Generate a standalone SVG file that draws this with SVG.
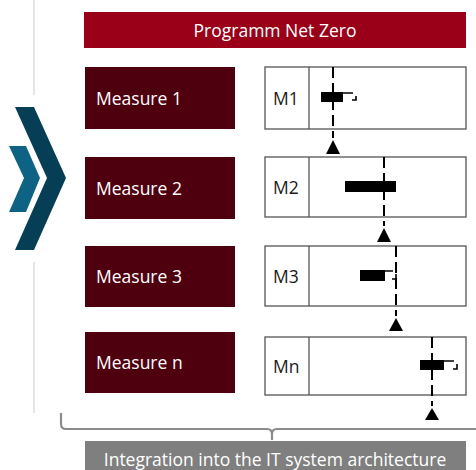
<svg xmlns="http://www.w3.org/2000/svg" width="476" height="470" viewBox="0 0 476 470">
<style>
text{font-family:"Open Sans","Liberation Sans",sans-serif;font-size:17.5px}
.w{fill:#fff}
.k{fill:#1a1a1a}
.m{fill:#4f000e}
.bx{fill:#fff;stroke:#555;stroke-width:1.3}
.dl{stroke:#000;stroke-width:2;stroke-dasharray:11,5;fill:none}
.bar{fill:#000}
</style>
<rect width="476" height="470" fill="#fff"/>
<g id="sidebar">
<line x1="34" y1="0" x2="34" y2="95" stroke="#d4d4d4" stroke-width="1.2"/>
<line x1="34" y1="262" x2="34" y2="413" stroke="#d4d4d4" stroke-width="1.2"/>
<polygon points="15,107 34,107 66,178 34,250 15,250 47,178" fill="#063f55"/>
<polygon points="9,146 26,146 40,178 26,212 9,212 24,178" fill="#0e6384"/>
</g>
<g id="header">
<rect x="84" y="12" width="382" height="36" fill="#9b0019"/>
<text class="w" x="275" y="37" text-anchor="middle">Programm Net Zero</text>
</g>
<g id="measure1"><rect class="m" x="85" y="67" width="150" height="62"/><text class="w" x="96" y="105">Measure 1</text></g>
<g id="measure2"><rect class="m" x="85" y="157" width="150" height="62"/><text class="w" x="96" y="195">Measure 2</text></g>
<g id="measure3"><rect class="m" x="85" y="246" width="150" height="61"/><text class="w" x="96" y="283">Measure 3</text></g>
<g id="measuren"><rect class="m" x="85" y="332" width="150" height="61"/><text class="w" x="96" y="369">Measure n</text></g>
<g id="m1">
<rect class="bx" x="265" y="67" width="201" height="62"/><line x1="309" y1="67" x2="309" y2="129" stroke="#555" stroke-width="1.3"/>
<text class="k" x="273" y="105">M1</text>
<rect class="bar" x="321" y="92" width="22" height="10"/>
<path d="M343,93 H353 M356,96 V100 H352" fill="none" stroke="#000" stroke-width="1.6"/>
</g>
<g id="m2">
<rect class="bx" x="265" y="157" width="201" height="60"/><line x1="309" y1="157" x2="309" y2="217" stroke="#555" stroke-width="1.3"/>
<text class="k" x="273" y="194">M2</text>
<rect class="bar" x="345" y="181" width="51" height="11"/>
</g>
<g id="m3">
<rect class="bx" x="265" y="246" width="201" height="60"/><line x1="309" y1="246" x2="309" y2="306" stroke="#555" stroke-width="1.3"/>
<text class="k" x="273" y="283">M3</text>
<rect class="bar" x="360" y="270" width="25" height="11"/>
<path d="M385,271 H393 M396,274 V279 H392" fill="none" stroke="#000" stroke-width="1.6"/>
</g>
<g id="mn">
<rect class="bx" x="265" y="337" width="201" height="58"/><line x1="309" y1="337" x2="309" y2="395" stroke="#555" stroke-width="1.3"/>
<text class="k" x="273" y="373">Mn</text>
<rect class="bar" x="420" y="360" width="24" height="10"/>
<path d="M444,361 H454 M457,364 V369 H453" fill="none" stroke="#000" stroke-width="1.6"/>
</g>
<g id="connectors">
<line class="dl" x1="333" y1="67" x2="333" y2="138"/>
<polygon points="333,140 340,154 326,154" fill="#000"/>
<line class="dl" x1="384" y1="157" x2="384" y2="226"/>
<polygon points="384,228 391,242 377,242" fill="#000"/>
<line class="dl" x1="396" y1="246" x2="396" y2="316"/>
<polygon points="396,318 403,331 389,331" fill="#000"/>
<line class="dl" x1="432" y1="337" x2="432" y2="406"/>
<polygon points="432,408 439,420 425,420" fill="#000"/>
</g>
<g id="brace">
<path d="M61,413 V424 Q61,429 66,429 H267 Q272,429 272,434 V440 M272,434 Q272,429 277,429 H476" fill="none" stroke="#8c8c8c" stroke-width="2.2"/>
</g>
<g id="footer">
<rect x="85" y="441" width="381" height="29" fill="#7f7f7f"/>
<text class="w" x="275" y="466" text-anchor="middle">Integration into the IT system architecture</text>
</g>
</svg>
